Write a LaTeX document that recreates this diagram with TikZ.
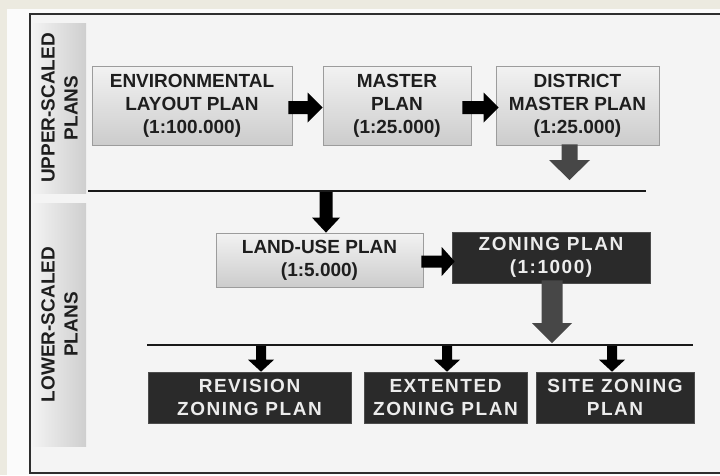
\documentclass[tikz,border=0pt]{standalone}
\usepackage{fontspec}
\setmainfont{Liberation Sans}
\usetikzlibrary{calc}
\definecolor{beige}{HTML}{ECEAE0}
\definecolor{panel}{HTML}{F4F4F4}
\definecolor{framec}{HTML}{2E2E2E}
\definecolor{darkbox}{HTML}{2A2A2A}
\definecolor{lighttxt}{HTML}{ECECEC}
\definecolor{darktxt}{HTML}{1E1E1E}
\definecolor{boxedge}{HTML}{9C9C9C}
\newcommand\blockarrow[6]{%
  \coordinate (hb) at ($(#2)!#5pt!(#1)$);
  \fill[#6] ($(#1)!#3pt!90:(#2)$) -- ($(hb)!#3pt!90:(#2)$) -- ($(hb)!#4pt!90:(#2)$) -- (#2)
     -- ($(hb)!#4pt!-90:(#2)$) -- ($(hb)!#3pt!-90:(#2)$) -- ($(#1)!#3pt!-90:(#2)$) -- cycle;}
\tikzset{
  lightbox/.style={draw=boxedge, line width=0.8pt, top color=white!90!gray, bottom color=gray!40,
    inner sep=0pt, align=center, text=darktxt, font=\fontsize{19}{23}\selectfont\bfseries},
  darkbox/.style={fill=darkbox, draw=gray!60!black, line width=0.6pt, inner sep=0pt, align=center, text=lighttxt,
    font=\fontsize{19}{23}\selectfont\bfseries\addfontfeatures{LetterSpace=8}},
  sidebar/.style={left color=gray!10, right color=gray!38, inner sep=0pt},
  sidelabel/.style={rotate=90, align=center, text=darktxt, inner sep=0pt, font=\fontsize{19}{23}\selectfont\bfseries},
  rule/.style={line width=2.6pt, draw=black!90},
}
\begin{document}
\begin{tikzpicture}[x=1pt,y=-1pt]
\useasboundingbox (0,0) rectangle (720,475);
\fill[beige] (0,0) rectangle (720,475);
\fill[white!97!gray] (7,9) rectangle (720,475);
\draw[framec, line width=2.6pt, fill=panel] (724,14) -- (30,14) -- (30,473) -- (724,473);
% side bars
\node[sidebar, minimum width=53pt, minimum height=170pt] (upbar) at (59.5,108) {};
\node[sidelabel] (uplabel) at (upbar.center) {UPPER-SCALED\\PLANS};
\node[sidebar, minimum width=53pt, minimum height=243pt] (lowbar) at (59.5,324.5) {};
\node[sidelabel] (lowlabel) at (lowbar.center) {LOWER-SCALED\\PLANS};
% upper boxes
\node[lightbox, minimum width=200pt, minimum height=79pt] (env) at (192,105.5) {ENVIRONMENTAL\\LAYOUT PLAN\\(1:100.000)};
\node[lightbox, minimum width=148pt, minimum height=79pt] (master) at (397,105.5) {MASTER\\PLAN\\(1:25.000)};
\node[lightbox, minimum width=163pt, minimum height=79pt] (district) at (577.5,105.5) {DISTRICT\\MASTER PLAN\\(1:25.000)};
% middle boxes
\node[lightbox, minimum width=207pt, minimum height=54pt] (land) at (319.5,260) {LAND-USE PLAN\\(1:5.000)};
\node[darkbox, minimum width=198pt, minimum height=51pt] (zoning) at (551,257.5) {ZONING PLAN\\(1:1000)};
% bottom boxes
\node[darkbox, minimum width=203pt, minimum height=51pt] (revision) at (249.5,397.5) {REVISION\\ZONING PLAN};
\node[darkbox, minimum width=163pt, minimum height=51pt] (extented) at (445.5,397.5) {EXTENTED\\ZONING PLAN};
\node[darkbox, minimum width=158pt, minimum height=51pt] (site) at (615,397.5) {SITE ZONING\\PLAN};
% rules
\coordinate (r1a) at (88,191); \coordinate (r1b) at (646,191);
\coordinate (r2a) at (147,345); \coordinate (r2b) at (693,345);
\draw[rule] (r1a) -- (r1b);
\draw[rule] (r2a) -- (r2b);
% arrows
\coordinate (a1s) at ($(env.east)+(-4,2)$);
\coordinate (a1e) at (master.west |- a1s);
\blockarrow{a1s}{a1e}{6.5}{15}{15}{black}
\coordinate (a2s) at ($(master.east)+(-9,2)$);
\coordinate (a2e) at ($(district.west |- a2s)+(3,0)$);
\blockarrow{a2s}{a2e}{6.5}{15}{15}{black}
\coordinate (a3s) at ($(district.south)+(-8,-1)$);
\coordinate (a3e) at ($(a3s |- r1a)+(0,-11)$);
\blockarrow{a3s}{a3e}{8}{20.5}{20}{black!72}
\coordinate (a4s) at (326,192);
\coordinate (a4e) at (a4s |- land.north);
\blockarrow{a4s}{a4e}{6.5}{14}{15}{black}
\coordinate (a5s) at ($(land.east)+(-2,1.5)$);
\coordinate (a5e) at ($(zoning.west |- a5s)+(3,0)$);
\blockarrow{a5s}{a5e}{6}{14.5}{13}{black}
\coordinate (a6s) at ($(zoning.south)+(1,-3)$);
\coordinate (a6e) at ($(a6s |- r2a)+(0,-2)$);
\blockarrow{a6s}{a6e}{10.5}{20}{20}{black!72}
\coordinate (b1s) at (261,346); \coordinate (b1e) at (b1s |- revision.north);
\blockarrow{b1s}{b1e}{5}{13}{12}{black}
\coordinate (b2s) at (447,346); \coordinate (b2e) at (b2s |- extented.north);
\blockarrow{b2s}{b2e}{5}{13}{12}{black}
\coordinate (b3s) at (612,346); \coordinate (b3e) at (b3s |- site.north);
\blockarrow{b3s}{b3e}{5}{13}{12}{black}
\end{tikzpicture}
\end{document}
